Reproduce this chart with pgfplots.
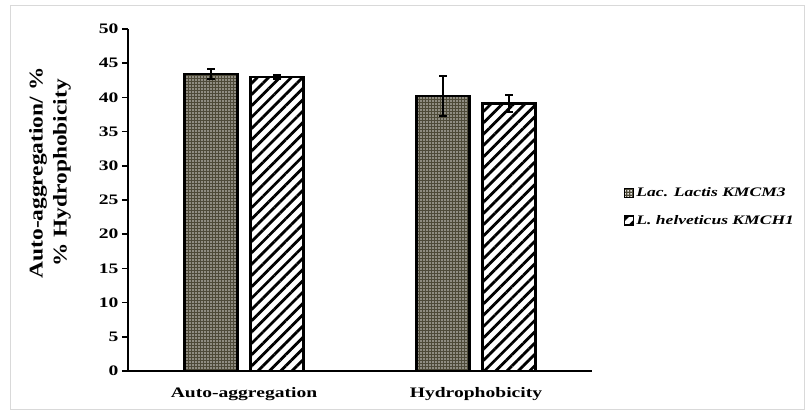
\documentclass[border=0pt]{standalone}
\usepackage{fontspec}
\setmainfont{Liberation Serif}[FakeStretch=1.35]
\newfontfamily\labfont{Liberation Serif}[FakeStretch=1.2]
\usepackage{pgfplots}
\pgfplotsset{compat=1.18}
\usetikzlibrary{patterns,patterns.meta}
\definecolor{olv}{RGB}{78,74,56}
\definecolor{frm}{RGB}{217,217,217}
\pgfdeclarepatternformonly{wdots}{\pgfqpoint{0pt}{0pt}}{\pgfqpoint{3pt}{3pt}}{\pgfqpoint{3pt}{3pt}}{%
  \pgfpathrectangle{\pgfqpoint{0.5pt}{0.5pt}}{\pgfqpoint{1.75pt}{1.75pt}}%
  \pgfusepath{fill}}
\begin{document}
\begin{tikzpicture}
\begin{axis}[
  name=ax,
  scale only axis,
  width=464pt, height=342pt,
  xmin=-0.5, xmax=1.5,
  ymin=0, ymax=50,
  ytick={0,5,...,50},
  xtick={0,1},
  xticklabels={Auto-aggregation,Hydrophobicity},
  extra x ticks={0.5,1.5},
  extra x tick labels={},
  extra x tick style={major tick length=6pt, tick style={line width=1.5pt,black}},
  axis x line*=bottom,
  axis y line*=left,
  axis line style={line width=2pt,black},
  tick align=outside,
  major tick length=6pt,
  x tick style={draw=none},
  y tick style={line width=1.5pt,black},
  ticklabel style={font=\fontsize{14.5}{16}\selectfont\bfseries},
  /pgf/number format/assume math mode=true,
  xticklabel style={yshift=-7pt},
  ylabel={Auto-aggregation/ \%\\\% Hydrophobicity},
  ylabel style={at={(rel axis cs:-0.168,0.579)}, anchor=center, align=center, font=\labfont\fontsize{19.5}{24}\selectfont\bfseries},
  ybar=13pt,
  bar width=53pt,
  legend style={at={(rel axis cs:1.062,0.48)}, anchor=west, draw=none, fill=none,
    font=\fontsize{13}{14}\selectfont\bfseries\itshape, row sep=13pt, cells={anchor=west}},
  legend image code/.code={\draw[#1,line width=1.5pt] (0pt,-4.5pt) rectangle (9pt,4.5pt);},
  error bars/y dir=both,
  error bars/y explicit,
  error bars/error bar style={line width=2pt,black},
  error bars/error mark options={rotate=90,mark size=4pt,line width=2pt,black},
]
\addplot[draw=black, line width=2.2pt, fill=olv, postaction={pattern=wdots, pattern color=white!88!olv}]
  coordinates {(0,43.4) +- (0,0.7) (1,40.2) +- (0,2.9)};
\addlegendentry{Lac. Lactis KMCM3}
\addplot[draw=black, line width=2.2pt, fill=white, postaction={pattern={Lines[angle=45,distance=8pt,line width=2.8pt]}, pattern color=black}]
  coordinates {(0,43.0) +- (0,0.3) (1,39.1) +- (0,1.2)};
\addlegendentry{L. helveticus KMCH1}
\end{axis}
\draw[frm, line width=1pt] ([shift={(-117pt,-39pt)}]ax.south west) rectangle ([shift={(676pt,365pt)}]ax.south west);
\useasboundingbox ([shift={(-128pt,-43pt)}]ax.south west) rectangle ([shift={(682pt,371pt)}]ax.south west);
\end{tikzpicture}
\end{document}
